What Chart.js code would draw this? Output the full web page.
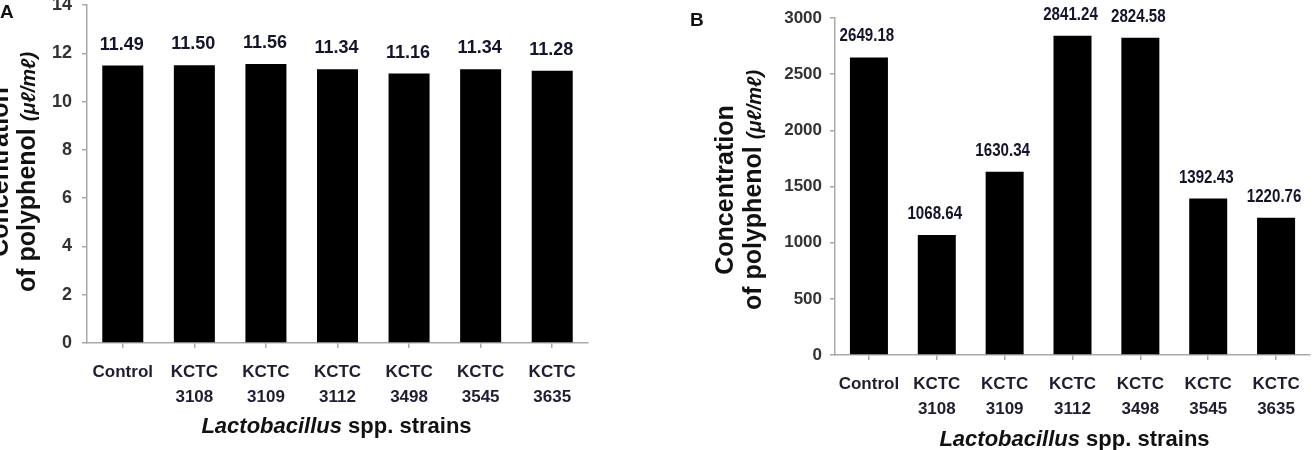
<!DOCTYPE html>
<html><head><meta charset="utf-8">
<script src="https://cdn.jsdelivr.net/npm/chart.js@4.4.0/dist/chart.umd.min.js"></script>
<style>
html,body{margin:0;padding:0;background:#fff;width:1314px;height:450px;overflow:hidden;}
.wrap{position:absolute;top:0;height:450px;}
#wa{left:0;width:620px;}
#wb{left:630px;width:684px;}
canvas{display:block;}
</style></head><body>
<div class="wrap" id="wa"><canvas id="ca" width="620" height="450"></canvas></div>
<div class="wrap" id="wb"><canvas id="cb" width="684" height="450"></canvas></div>
<script>
// ---- data ----
const categories = [['Control'], ['KCTC', '3108'], ['KCTC', '3109'], ['KCTC', '3112'], ['KCTC', '3498'], ['KCTC', '3545'], ['KCTC', '3635']];
const valuesA = [11.49, 11.50, 11.56, 11.34, 11.16, 11.34, 11.28];
const valueLabelsA = ['11.49', '11.50', '11.56', '11.34', '11.16', '11.34', '11.28'];
const valuesB = [2649.18, 1068.64, 1630.34, 2841.24, 2824.58, 1392.43, 1220.76];
const valueLabelsB = ['2649.18', '1068.64', '1630.34', '2841.24', '2824.58', '1392.43', '1220.76'];
const yTicksA = [0, 2, 4, 6, 8, 10, 12, 14];
const yTicksB = [0, 500, 1000, 1500, 2000, 2500, 3000];
const panelLetters = ['A', 'B'];
const yTitleLine1 = 'Concentration';
const yTitleLine2a = 'of polyphenol ';
const yTitleLine2b = '(\u03BC\u2113/m\u2113)';
const xTitleItalic = 'Lactobacillus';
const xTitleRest = ' spp. strains';

const FAM = '"Liberation Sans", Arial, sans-serif';
const AXIS = '#a9a9a9';

const valueLabelPlugin = {
  id: 'valueLabels',
  afterDatasetsDraw(chart, args, o) {
    const ctx = chart.ctx, meta = chart.getDatasetMeta(0);
    const sx = o.scaleX || 1;
    ctx.save();
    ctx.font = o.font; ctx.fillStyle = o.color;
    ctx.textAlign = 'center'; ctx.textBaseline = 'middle';
    meta.data.forEach((bar, i) => {
      ctx.save();
      ctx.translate(bar.x + (o.dx || 0), bar.y - o.offset);
      ctx.scale(sx, 1);
      ctx.fillText(o.labels[i], 0, 0);
      ctx.restore();
    });
    ctx.restore();
  }
};

const titlesPlugin = {
  id: 'titles',
  afterDraw(chart, args, o) {
    const ctx = chart.ctx, area = chart.chartArea;
    ctx.save();
    ctx.fillStyle = '#111';
    ctx.font = 'bold 19px ' + FAM;
    ctx.textAlign = 'left'; ctx.textBaseline = 'alphabetic';
    ctx.fillText(o.letter, o.letterX, o.letterY);
    const fI = 'italic bold 22px ' + FAM, fN = 'bold 22px ' + FAM;
    ctx.font = fI; const wI = ctx.measureText(xTitleItalic).width;
    ctx.font = fN; const wN = ctx.measureText(xTitleRest).width;
    const cx = (area.left + area.right) / 2 + (o.xTitleDx || 0);
    let sx = cx - (wI + wN) / 2;
    ctx.font = fI; ctx.fillText(xTitleItalic, sx, o.xTitleBase);
    ctx.font = fN; ctx.fillText(xTitleRest, sx + wI, o.xTitleBase);
    const f1 = 'bold 25px ' + FAM, f2 = 'italic bold 20px ' + FAM;
    ctx.translate(0, o.yTitleCenter);
    ctx.rotate(-Math.PI / 2);
    ctx.font = f1;
    const w1 = ctx.measureText(yTitleLine1).width;
    ctx.fillText(yTitleLine1, -w1 / 2, o.yBase1);
    const w2a = ctx.measureText(yTitleLine2a).width;
    ctx.font = f2;
    const w2b = ctx.measureText(yTitleLine2b).width;
    const s2 = -(w2a + w2b) / 2;
    ctx.font = f1; ctx.fillText(yTitleLine2a, s2, o.yBase2);
    ctx.font = f2; ctx.fillText(yTitleLine2b, s2 + w2a, o.yBase2);
    ctx.restore();
  }
};

function makeChart(id, values, labels, yTicks, cfg) {
  return new Chart(document.getElementById(id), {
    type: 'bar',
    data: {
      labels: categories,
      datasets: [{ data: values, backgroundColor: '#000', borderWidth: 0,
        categoryPercentage: 1, barPercentage: cfg.barPct }]
    },
    options: {
      responsive: false, animation: false,
      layout: { padding: { left: 0, right: cfg.padRight, top: cfg.top, bottom: 0 } },
      plugins: {
        legend: { display: false }, tooltip: { enabled: false },
        valueLabels: { labels: labels, font: cfg.valueFont, color: '#15152a', offset: 21, dx: cfg.valueDx, scaleX: cfg.valueScaleX },
        titles: cfg.titles
      },
      scales: {
        x: {
          grid: { offset: false, drawOnChartArea: false, drawTicks: true, tickLength: 5, color: AXIS, lineWidth: 1.5 },
          border: { display: true, color: AXIS, width: 1.5 },
          ticks: { font: { family: FAM, size: 17, weight: 'bold', lineHeight: 1.45 }, color: '#1e1e30',
            padding: cfg.xPad, maxRotation: 0, minRotation: 0, autoSkip: false },
          afterFit(s) { s.height = cfg.xHeight; s.paddingLeft = 0; s.paddingRight = 0; }
        },
        y: {
          min: yTicks[0], max: yTicks[yTicks.length - 1],
          afterBuildTicks(s) { s.ticks = yTicks.map(v => ({ value: v })); },
          grid: { drawOnChartArea: false, drawTicks: true, tickLength: 5, color: AXIS, lineWidth: 1.5 },
          border: { display: true, color: AXIS, width: 1.5 },
          ticks: { font: cfg.yTickFont, color: '#333', padding: cfg.yPad, callback: v => String(v) },
          afterFit(s) { s.width = cfg.yWidth; s.paddingTop = 0; s.paddingBottom = 0; }
        }
      }
    },
    plugins: [valueLabelPlugin, titlesPlugin]
  });
}

makeChart('ca', valuesA, valueLabelsA, yTicksA, {
  barPct: 0.573, padRight: 32, top: 5, xHeight: 107, xPad: 12, yWidth: 87, yPad: 10,
  yTickFont: { family: FAM, size: 18, weight: 'bold' },
  valueFont: 'bold 18px ' + FAM, valueDx: -1, valueScaleX: 1,
  titles: { letter: panelLetters[0], letterX: 0, letterY: 18, xTitleBase: 433, xTitleDx: -1,
    yTitleCenter: 172, yBase1: 8, yBase2: 35 }
});

makeChart('cb', valuesB, valueLabelsB, yTicksB, {
  barPct: 0.56, padRight: 4, top: 18, xHeight: 95, xPad: 12, yWidth: 205, yPad: 8,
  yTickFont: { family: FAM, size: 17, weight: 'bold' },
  valueFont: 'bold 18px ' + FAM, valueDx: -2, valueScaleX: 0.84,
  titles: { letter: panelLetters[1], letterX: 60, letterY: 26, xTitleBase: 446, xTitleDx: 2,
    yTitleCenter: 190, yBase1: 103, yBase2: 131 }
});
</script>
</body></html>
